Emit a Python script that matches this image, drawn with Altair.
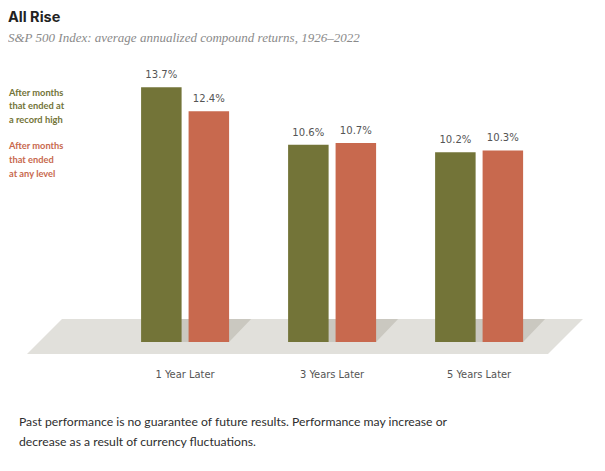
import altair as alt
import pandas as pd

# ---- data ----
categories = ["1 Year Later", "3 Years Later", "5 Years Later"]
record_high = [13.7, 10.6, 10.2]
any_level = [12.4, 10.7, 10.3]
series = ["After months that ended at a record high",
          "After months that ended at any level"]
series_lines = ["After months\nthat ended at\na record high",
                "After months\nthat ended\nat any level"]
title_text = "All Rise"
subtitle_text = "S&P 500 Index: average annualized compound returns, 1926\u20132022"
footer_lines = ["Past performance is no guarantee of future results. Performance may increase or",
                "decrease as a result of currency fluctuations."]

# ---- styles / layout ----
GREEN = "#737438"
RED = "#c8694e"
FLOOR = "#e1e0db"
SHADOW = "#cac8c0"
NARROW = "DejaVu Sans Condensed, sans-serif"

TOP = 4
W, H = 589, 342
Y_DOMAIN = [-0.645, 17.742]
X_UNITS = [-1.2048, 2.802]
FLOOR_L, FLOOR_R, FLOOR_SLANT = -1.0755, 2.4687, 0.238
FLOOR_TOP, FLOOR_BOT = 1.237, -0.645
GROUP_HALF, SHADOW_SHIFT = 0.2993, 0.1497

rows = []
for c, a, b in zip(categories, record_high, any_level):
    rows.append({"category": c, "series": series[0], "value": a, "label": f"{a:.1f}%"})
    rows.append({"category": c, "series": series[1], "value": b, "label": f"{b:.1f}%"})
df = pd.DataFrame(rows)

yscale = alt.Scale(domain=Y_DOMAIN, nice=False, zero=False)
uscale = alt.Scale(domain=X_UNITS, nice=False, zero=False)

# floor parallelogram
floor_df = pd.DataFrame({
    "u": [FLOOR_L, FLOOR_L + FLOOR_SLANT, FLOOR_R, FLOOR_R + FLOOR_SLANT],
    "top": [FLOOR_BOT, FLOOR_TOP, FLOOR_TOP, FLOOR_TOP],
    "bot": [FLOOR_BOT, FLOOR_BOT, FLOOR_BOT, FLOOR_TOP],
})
floor = alt.Chart(floor_df).mark_area(color=FLOOR, interpolate="linear").encode(
    x=alt.X("u:Q", scale=uscale, axis=None),
    y=alt.Y("top:Q", scale=yscale, axis=None),
    y2="bot:Q",
)

# shadows behind each bar pair
srows = []
for i in range(len(categories)):
    l, r = i - GROUP_HALF, i + GROUP_HALF
    srows += [
        {"g": i, "u": l, "top": 0, "bot": 0},
        {"g": i, "u": l + SHADOW_SHIFT, "top": FLOOR_TOP, "bot": 0},
        {"g": i, "u": r, "top": FLOOR_TOP, "bot": 0},
        {"g": i, "u": r + SHADOW_SHIFT, "top": FLOOR_TOP, "bot": FLOOR_TOP},
    ]
shadow = alt.Chart(pd.DataFrame(srows)).mark_area(color=SHADOW, interpolate="linear").encode(
    x=alt.X("u:Q", scale=uscale, axis=None),
    y=alt.Y("top:Q", scale=yscale, axis=None),
    y2="bot:Q",
    detail="g:N",
)

decor = alt.layer(floor, shadow)

xband = alt.X(
    "category:N", sort=categories,
    scale=alt.Scale(domain=categories, paddingInner=0.4014, paddingOuter=0.704, align=0.643),
    axis=alt.Axis(title=None, domain=False, ticks=False, tickSize=0, labelPadding=23.5,
                  labelBaseline="alphabetic", labelFont=NARROW, labelFontSize=11,
                  labelColor="#555555", labelAngle=0, grid=False),
)
xoff = alt.XOffset("series:N", sort=series,
                   scale=alt.Scale(domain=series, paddingInner=0.147, paddingOuter=0))
yq = alt.Y("value:Q", scale=yscale, axis=None)
color = alt.Color("series:N", scale=alt.Scale(domain=series, range=[GREEN, RED]), legend=None)

bars = alt.Chart(df).mark_bar().encode(
    x=xband, xOffset=xoff, y=yq, y2=alt.datum(0), color=color
)
labels = alt.Chart(df).mark_text(
    dy=-9, baseline="alphabetic", font=NARROW, fontSize=11.2, color="#555555"
).encode(x=xband, xOffset=xoff, y=yq, text="label:N")

data_layer = alt.layer(bars, labels)

# texts (y given relative to the chart's top edge)
def text_block(txt, x, y, **kw):
    return alt.Chart(pd.DataFrame({"t": [txt]})).mark_text(
        align="left", baseline="alphabetic", lineBreak="\n", **kw
    ).encode(x=alt.value(x), y=alt.value(y - TOP), text="t:N")

title = text_block(title_text, 0, 13.5, font="Inter", fontSize=14.5, fontWeight="bold", color="#222222")
subtitle = text_block(subtitle_text, 0, 34, font="Liberation Serif", fontSize=13,
                      fontStyle="italic", color="#8a8a8a")
leg1 = text_block(series_lines[0], 1, 87.5, font="Lato", fontSize=9.3, fontWeight="bold",
                  color=GREEN, lineHeight=13.7)
leg2 = text_block(series_lines[1], 1, 141.3, font="Lato", fontSize=9.3, fontWeight="bold",
                  color=RED, lineHeight=13.7)
footer = text_block("\n".join(footer_lines), 11, 418, font="Lato", fontSize=12.2,
                    color="#2e2e2e", lineHeight=20)

chart = alt.layer(decor, data_layer, title, subtitle, leg1, leg2, footer).resolve_scale(
    x="independent"
).properties(
    width=W, height=H,
    autosize=alt.AutoSizeParams(type="none"),
    padding={"left": 0, "top": TOP, "right": 0, "bottom": 109},
    background="white",
).configure_view(stroke=None)

chart.save("out.html", embed_options={"renderer": "svg", "actions": False})
